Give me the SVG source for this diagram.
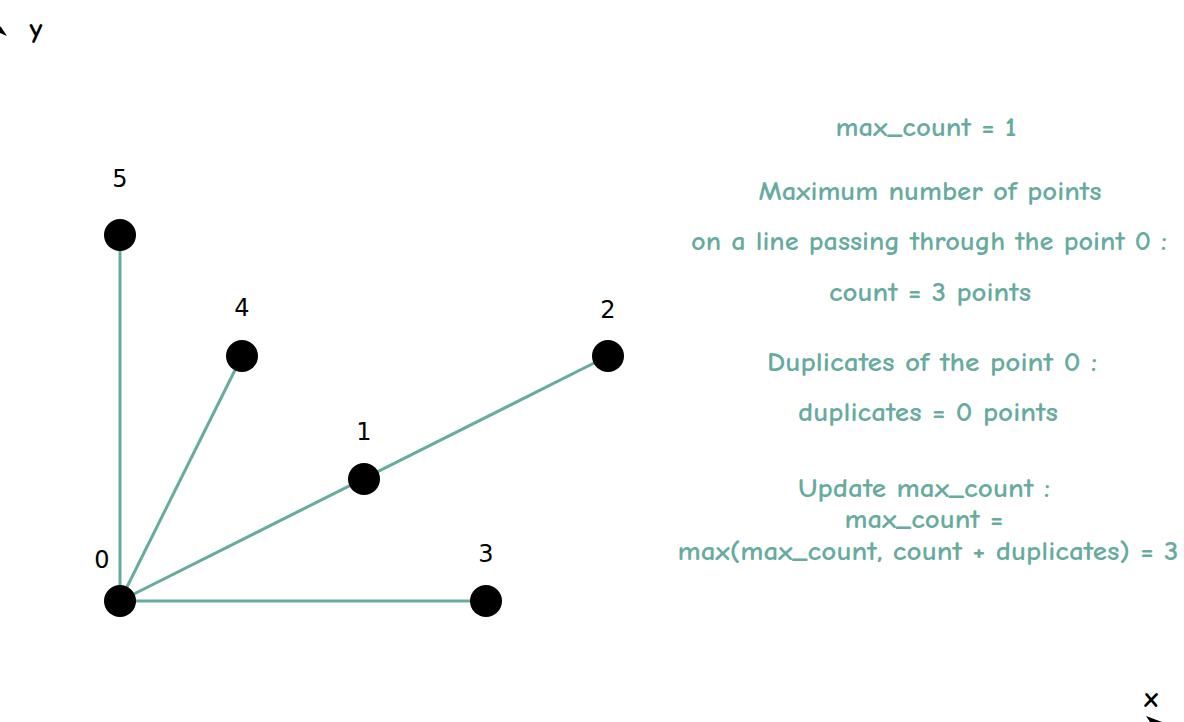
<svg xmlns="http://www.w3.org/2000/svg" width="1184" height="722" viewBox="0 0 1184 722">
<style>
.edge{stroke:#67AB9F;stroke-width:3;fill:none}
.pt{fill:#000}
.lbl{font-family:"DejaVu Sans",sans-serif;font-size:24px;fill:#000;text-anchor:middle}
.note{font-family:"Comic Sans MS","Comic Neue","Liberation Sans",sans-serif;font-size:27px;font-weight:bold;fill:#67AB9F;text-anchor:middle}
.ax{font-family:"Comic Sans MS","Comic Neue","Liberation Sans",sans-serif;font-size:28px;font-weight:bold;fill:#000;text-anchor:middle}
</style>
<rect width="1184" height="722" fill="#fff"/>
<g id="axes">
<polygon points="-4,24 1,27 7,36 0,33 -8,36" fill="#000"/>
<text class="ax" x="36" y="38">y</text>
<text class="ax" x="1151" y="707">x</text>
<polygon points="1146,716 1162,722 1150,722" fill="#000"/>
</g>
<g id="connectors">
<line class="edge" x1="120" y1="601" x2="120" y2="235"/>
<line class="edge" x1="120" y1="601" x2="242" y2="356"/>
<line class="edge" x1="120" y1="601" x2="608" y2="356"/>
<line class="edge" x1="120" y1="601" x2="486" y2="601"/>
</g>
<g id="n0"><circle class="pt" cx="120" cy="601" r="16"/><text class="lbl" x="102" y="568">0</text></g>
<g id="n1"><circle class="pt" cx="364" cy="479" r="16"/><text class="lbl" x="364" y="440">1</text></g>
<g id="n2"><circle class="pt" cx="608" cy="356" r="16"/><text class="lbl" x="608" y="318">2</text></g>
<g id="n3"><circle class="pt" cx="486" cy="601" r="16"/><text class="lbl" x="486" y="562">3</text></g>
<g id="n4"><circle class="pt" cx="242" cy="356" r="16"/><text class="lbl" x="242" y="316">4</text></g>
<g id="n5"><circle class="pt" cx="120" cy="235" r="16"/><text class="lbl" x="120" y="187">5</text></g>
<g id="notes">
<text class="note" x="926" y="136" textLength="181" lengthAdjust="spacingAndGlyphs">max_count = 1</text>
<text class="note" x="930" y="200" textLength="343" lengthAdjust="spacingAndGlyphs">Maximum number of points</text>
<text class="note" x="929" y="250" textLength="476" lengthAdjust="spacingAndGlyphs">on a line passing through the point 0 :</text>
<text class="note" x="930" y="301" textLength="202" lengthAdjust="spacingAndGlyphs">count = 3 points</text>
<text class="note" x="932" y="371" textLength="330" lengthAdjust="spacingAndGlyphs">Duplicates of the point 0 :</text>
<text class="note" x="928" y="421" textLength="260" lengthAdjust="spacingAndGlyphs">duplicates = 0 points</text>
<text class="note" x="924" y="497" textLength="252" lengthAdjust="spacingAndGlyphs">Update max_count :</text>
<text class="note" x="924" y="528" textLength="159" lengthAdjust="spacingAndGlyphs">max_count =</text>
<text class="note" x="928" y="560" textLength="501" lengthAdjust="spacingAndGlyphs">max(max_count, count + duplicates) = 3</text>
</g>
</svg>
